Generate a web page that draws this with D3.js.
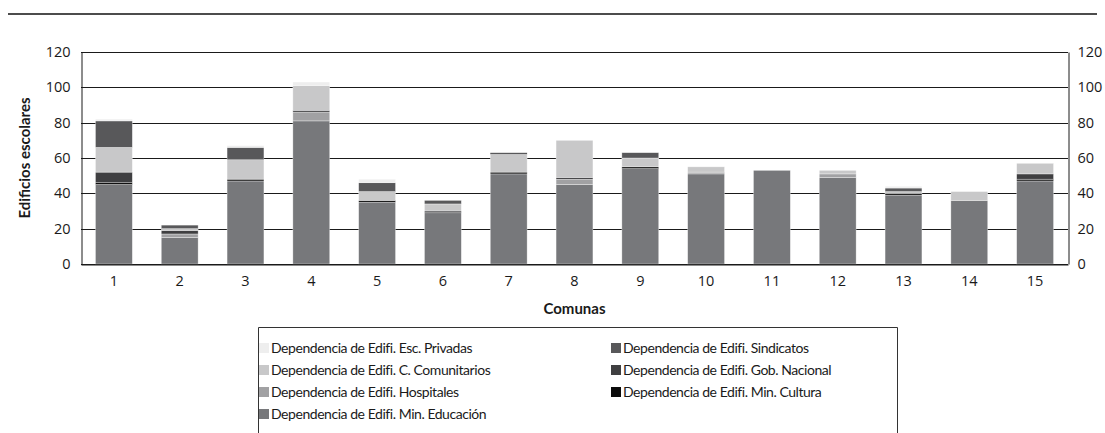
<!DOCTYPE html>
<html>
<head>
<meta charset="utf-8">
<script src="https://cdn.jsdelivr.net/npm/d3@7"></script>
<style>
  body { margin: 0; background: #fff; }
  svg { display: block; }
  .tick text { font-family: "Open Sans", sans-serif; font-size: 14.5px; fill: #1a1a1a; }
  .lbl { font-family: Lato, sans-serif; fill: #1a1a1a; }
</style>
</head>
<body>
<div id="chart"></div>
<script>
// datos por comuna
const comunas = ["1","2","3","4","5","6","7","8","9","10","11","12","13","14","15"];
const educacion    = [45, 15, 47, 81, 35, 29, 51, 45, 54, 51, 53, 49, 39, 36, 47];
const cultura      = [ 1,  0,  1,  0,  1,  0,  1,  0,  1,  0,  0,  0,  1,  0,  1];
const hospitales   = [ 0,  2,  0,  5,  0,  0,  0,  3,  0,  1,  0,  2,  0,  0,  0];
const gobNacional  = [ 6,  2,  0,  1,  0,  1,  0,  1,  0,  0,  0,  0,  0,  0,  3];
const comunitarios = [14,  1, 11, 14,  5,  4, 10, 21,  5,  3,  0,  2,  1,  5,  6];
const sindicatos   = [15,  2,  7,  0,  5,  2,  1,  0,  3,  0,  0,  0,  2,  0,  0];
const privadas     = [ 1,  0,  1,  2,  2,  0,  0,  0,  0,  0,  0,  0,  1,  0,  0];
const yTicks = [0, 20, 40, 60, 80, 100, 120];

// orden de apilado (abajo -> arriba)
const series = [
  { key: "educacion",    name: "Dependencia de Edifi. Min. Educación",   values: educacion,    color: "#77787b" },
  { key: "cultura",      name: "Dependencia de Edifi. Min. Cultura",     values: cultura,      color: "#0b0b0b" },
  { key: "hospitales",   name: "Dependencia de Edifi. Hospitales",       values: hospitales,   color: "#a1a1a3" },
  { key: "gobNacional",  name: "Dependencia de Edifi. Gob. Nacional",    values: gobNacional,  color: "#3f3f41" },
  { key: "comunitarios", name: "Dependencia de Edifi. C. Comunitarios",  values: comunitarios, color: "#c8c8c9" },
  { key: "sindicatos",   name: "Dependencia de Edifi. Sindicatos",       values: sindicatos,   color: "#58585a" },
  { key: "privadas",     name: "Dependencia de Edifi. Esc. Privadas",    values: privadas,     color: "#eeeeee" }
];
// orden de la leyenda (por filas)
const legendOrder = ["privadas", "sindicatos", "comunitarios", "gobNacional", "hospitales", "cultura", "educacion"];

const width = 1105, height = 433;
const margin = { top: 52, right: 37, bottom: 169, left: 81 };

const svg = d3.select("#chart").append("svg")
  .attr("width", width)
  .attr("height", height);

// línea superior
svg.append("line")
  .attr("x1", 8).attr("x2", 1097).attr("y1", 14).attr("y2", 14)
  .attr("stroke", "#111").attr("stroke-width", 1.5);

const x = d3.scaleBand()
  .domain(comunas)
  .range([margin.left, width - margin.right])
  .paddingInner(0.44)
  .paddingOuter(0.22);

const y = d3.scaleLinear()
  .domain([0, 120])
  .range([height - margin.bottom, margin.top]);

const rows = comunas.map((c, i) => {
  const r = { comuna: c };
  series.forEach(s => r[s.key] = s.values[i]);
  return r;
});
const stacked = d3.stack().keys(series.map(s => s.key))(rows);

// cuadrícula
svg.append("g")
  .selectAll("line")
  .data(yTicks)
  .join("line")
  .attr("x1", margin.left).attr("x2", width - margin.right)
  .attr("y1", d => Math.round(y(d)) + 0.5).attr("y2", d => Math.round(y(d)) + 0.5)
  .attr("stroke", "#1a1a1a").attr("stroke-width", 1);

// barras
svg.append("g")
  .selectAll("g")
  .data(stacked)
  .join("g")
  .attr("fill", (d, i) => series[i].color)
  .selectAll("rect")
  .data(d => d)
  .join("rect")
  .attr("x", d => x(d.data.comuna))
  .attr("width", x.bandwidth())
  .attr("y", d => y(d[1]))
  .attr("height", d => y(d[0]) - y(d[1]))
  .attr("stroke", "#fff")
  .attr("stroke-opacity", 0.55)
  .attr("stroke-width", 0.6);

// ejes
const left = svg.append("g")
  .attr("transform", `translate(${margin.left + 0.5},0)`)
  .call(d3.axisLeft(y).tickValues(yTicks).tickSize(0).tickPadding(11));
left.select(".domain").attr("stroke", "#1a1a1a");

const right = svg.append("g")
  .attr("transform", `translate(${width - margin.right + 0.5},0)`)
  .call(d3.axisRight(y).tickValues(yTicks).tickSize(0).tickPadding(9));
right.select(".domain").attr("stroke", "#1a1a1a");
right.selectAll(".tick text").attr("text-anchor", "start");

const bottom = svg.append("g")
  .attr("transform", `translate(0,${height - margin.bottom + 0.5})`)
  .call(d3.axisBottom(x).tickSize(0).tickPadding(11));
bottom.select(".domain").attr("stroke", "#1a1a1a");

// títulos de ejes
svg.append("text")
  .attr("class", "lbl")
  .attr("transform", `translate(30,${(margin.top + height - margin.bottom) / 2}) rotate(-90)`)
  .attr("text-anchor", "middle")
  .attr("font-weight", "bold")
  .attr("font-size", 15)
  .text("Edificios escolares");

svg.append("text")
  .attr("class", "lbl")
  .attr("x", (margin.left + width - margin.right) / 2)
  .attr("y", 314)
  .attr("text-anchor", "middle")
  .attr("font-weight", "bold")
  .attr("font-size", 15)
  .text("Comunas");

// leyenda
const legend = svg.append("g");
legend.append("path")
  .attr("d", "M258.5,440 V327.5 H897.5 V440")
  .attr("fill", "none")
  .attr("stroke", "#333").attr("stroke-width", 1);

const bySeries = new Map(series.map(s => [s.key, s]));
const item = legend.selectAll("g")
  .data(legendOrder.map(k => bySeries.get(k)))
  .join("g")
  .attr("transform", (d, i) => `translate(${i % 2 === 0 ? 259 : 611},${348 + Math.floor(i / 2) * 22})`);

item.append("rect")
  .attr("x", 0).attr("y", -5)
  .attr("width", 10).attr("height", 10)
  .attr("fill", d => d.color);

item.append("text")
  .attr("class", "lbl")
  .attr("x", 12)
  .attr("dy", "0.35em")
  .attr("font-size", 14)
  .attr("letter-spacing", "-0.45px")
  .text(d => d.name);
</script>
</body>
</html>
